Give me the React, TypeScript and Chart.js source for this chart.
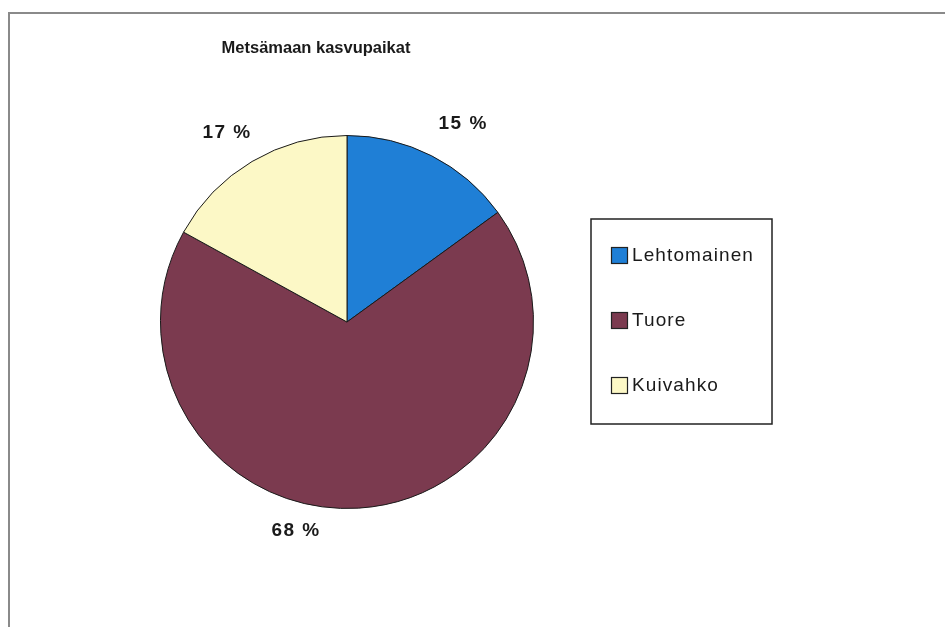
import React, { useEffect, useRef } from "react";
import { Chart, registerables } from "chart.js";

Chart.register(...registerables);

const title = "Metsämaan kasvupaikat";
const categories = ["Lehtomainen", "Tuore", "Kuivahko"];
const values = [15, 68, 17];
const percentLabels = ["15 %", "68 %", "17 %"];
const colors = ["#1f7fd6", "#7b3a4f", "#fcf8c6"];

// label placement relative to slice mid-angle (degrees) and radius factor
const labelAngleOffset = [3, 17.6, -1.8];
const labelRadiusFactor = [1.235, 1.15, 1.21];

const FONT = "'Liberation Sans', Arial, sans-serif";

const decorPlugin = {
  id: "decor",
  beforeDraw(chart: any) {
    const ctx = chart.ctx;
    ctx.save();
    ctx.fillStyle = "#ffffff";
    ctx.fillRect(0, 0, chart.width, chart.height);
    ctx.strokeStyle = "#8a8a8a";
    ctx.lineWidth = 2;
    ctx.beginPath();
    ctx.moveTo(9, chart.height);
    ctx.lineTo(9, 13);
    ctx.lineTo(chart.width, 13);
    ctx.stroke();
    ctx.restore();
  },
  afterDraw(chart: any) {
    const ctx = chart.ctx;
    ctx.save();
    // title
    ctx.fillStyle = "#1a1a1a";
    ctx.font = `bold 16.5px ${FONT}`;
    ctx.textAlign = "center";
    ctx.textBaseline = "middle";
    ctx.fillText(title, 316, 48);

    // percent labels
    const meta = chart.getDatasetMeta(0);
    ctx.font = `bold 19px ${FONT}`;
    (ctx as any).letterSpacing = "1.5px";
    meta.data.forEach((arc: any, i: number) => {
      const p = arc.getProps(["x", "y", "startAngle", "endAngle", "outerRadius"], true);
      const mid = (p.startAngle + p.endAngle) / 2 + (labelAngleOffset[i] * Math.PI) / 180;
      const r = p.outerRadius * labelRadiusFactor[i];
      ctx.fillText(percentLabels[i], p.x + Math.cos(mid) * r + 1, p.y + Math.sin(mid) * r + 1);
    });

    // legend box
    const lx = 591, ly = 219, lw = 181, lh = 205;
    ctx.strokeStyle = "#222";
    ctx.lineWidth = 1.5;
    ctx.strokeRect(lx, ly, lw, lh);
    ctx.font = `19px ${FONT}`;
    (ctx as any).letterSpacing = "1.1px";
    ctx.textAlign = "left";
    const rowH = 65;
    const y0 = ly + 36;
    categories.forEach((c, i) => {
      const y = y0 + i * rowH;
      ctx.fillStyle = colors[i];
      ctx.fillRect(611, y - 8, 17, 17);
      ctx.strokeStyle = "#222";
      ctx.lineWidth = 1.2;
      ctx.strokeRect(611.5, y - 7.5, 16, 16);
      ctx.fillStyle = "#1a1a1a";
      ctx.fillText(c, 632, y + 1);
    });
    ctx.restore();
  },
};

export default function App() {
  const ref = useRef<HTMLCanvasElement>(null);
  useEffect(() => {
    if (!ref.current) return;
    const chart = new Chart(ref.current, {
      type: "pie",
      data: {
        labels: categories,
        datasets: [
          {
            data: values,
            backgroundColor: colors,
            borderColor: "#1a1a1a",
            borderWidth: 1,
          },
        ],
      },
      options: {
        animation: false,
        responsive: false,
        maintainAspectRatio: false,
        layout: { padding: { left: 160, right: 411, top: 135, bottom: 118 } },
        plugins: {
          legend: { display: false },
          tooltip: { enabled: false },
          title: { display: false },
        },
      },
      plugins: [decorPlugin],
    });
    return () => chart.destroy();
  }, []);
  return (
    <div style={{ position: "fixed", left: 0, top: 0, width: 945, height: 627 }}>
      <canvas ref={ref} width={945} height={627} style={{ width: 945, height: 627 }} />
    </div>
  );
}
